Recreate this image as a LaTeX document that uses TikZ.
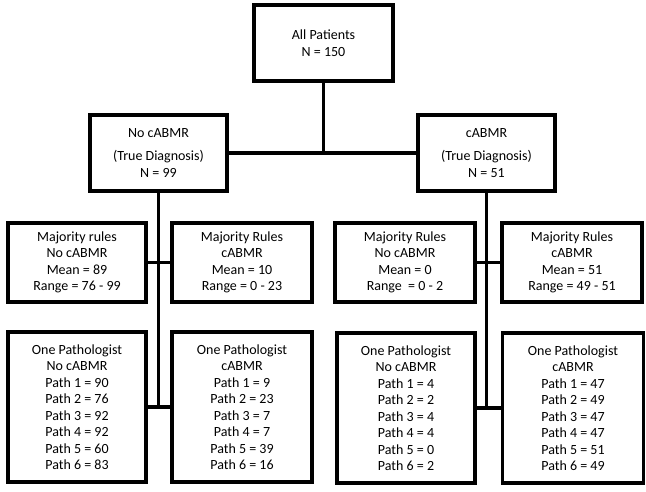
\documentclass[tikz,border=0pt]{standalone}
\usepackage{fontspec}
\setmainfont{Carlito}
\begin{document}
\begin{tikzpicture}[x=1pt,y=-1pt,
  box/.style={draw=black,line width=3.8pt,fill=white,align=center,inner sep=0pt,
    font=\fontsize{14}{16.5}\selectfont},
  link/.style={draw=black,line width=3.2pt}]
\useasboundingbox (0,0) rectangle (646,491);
% top
\node[box,minimum width=139pt,minimum height=76pt] (top) at (323.5,43) {All Patients\\N = 150};
% middle
\node[box,minimum width=137pt,minimum height=76pt] (lm) at (158.5,153) {No cABMR\\[7pt](True Diagnosis)\\N = 99};
\node[box,minimum width=137pt,minimum height=76pt] (rm) at (486.5,153) {cABMR\\[7pt](True Diagnosis)\\N = 51};
% majority rules
\node[box,minimum width=138pt,minimum height=79pt] (mLL) at (77,262.5) {Majority rules\\No cABMR\\Mean = 89\\Range = 76 - 99};
\node[box,minimum width=140pt,minimum height=79pt] (mLR) at (242,262.5) {Majority Rules\\cABMR\\Mean = 10\\Range = 0 - 23};
\node[box,minimum width=140pt,minimum height=79pt] (mRL) at (405,262.5) {Majority Rules\\No cABMR\\Mean = 0\\Range \ = 0 - 2};
\node[box,minimum width=140pt,minimum height=79pt] (mRR) at (572,262.5) {Majority Rules\\cABMR\\Mean = 51\\Range = 49 - 51};
% one pathologist
\node[box,minimum width=138pt,minimum height=150pt] (bLL) at (77,407) {One Pathologist\\No cABMR\\Path 1 = 90\\Path 2 = 76\\Path 3 = 92\\Path 4 = 92\\Path 5 = 60\\Path 6 = 83};
\node[box,minimum width=140pt,minimum height=150pt] (bLR) at (242,407) {One Pathologist\\cABMR\\Path 1 = 9\\Path 2 = 23\\Path 3 = 7\\Path 4 = 7\\Path 5 = 39\\Path 6 = 16};
\node[box,minimum width=138pt,minimum height=150pt] (bRL) at (406,408) {One Pathologist\\No cABMR\\Path 1 = 4\\Path 2 = 2\\Path 3 = 4\\Path 4 = 4\\Path 5 = 0\\Path 6 = 2};
\node[box,minimum width=141pt,minimum height=150pt] (bRR) at (573,408) {One Pathologist\\cABMR\\Path 1 = 47\\Path 2 = 49\\Path 3 = 47\\Path 4 = 47\\Path 5 = 51\\Path 6 = 49};
% connectors
\coordinate (jt) at (top.south |- lm.east);
\draw[link] (top.south) -- (jt);
\draw[link] (lm.east) -- (rm.west);
\coordinate (jl) at (lm.south |- bLL.east);
\coordinate (jr) at (rm.south |- bRL.east);
\draw[link] (lm.south) -- (jl);
\draw[link] (rm.south) -- (jr);
\draw[link] (mLL.east) -- (mLR.west);
\draw[link] (mRL.east) -- (mRR.west);
\draw[link] (bLL.east) -- (bLR.west);
\draw[link] (bRL.east) -- (bRR.west);
\end{tikzpicture}
\end{document}
